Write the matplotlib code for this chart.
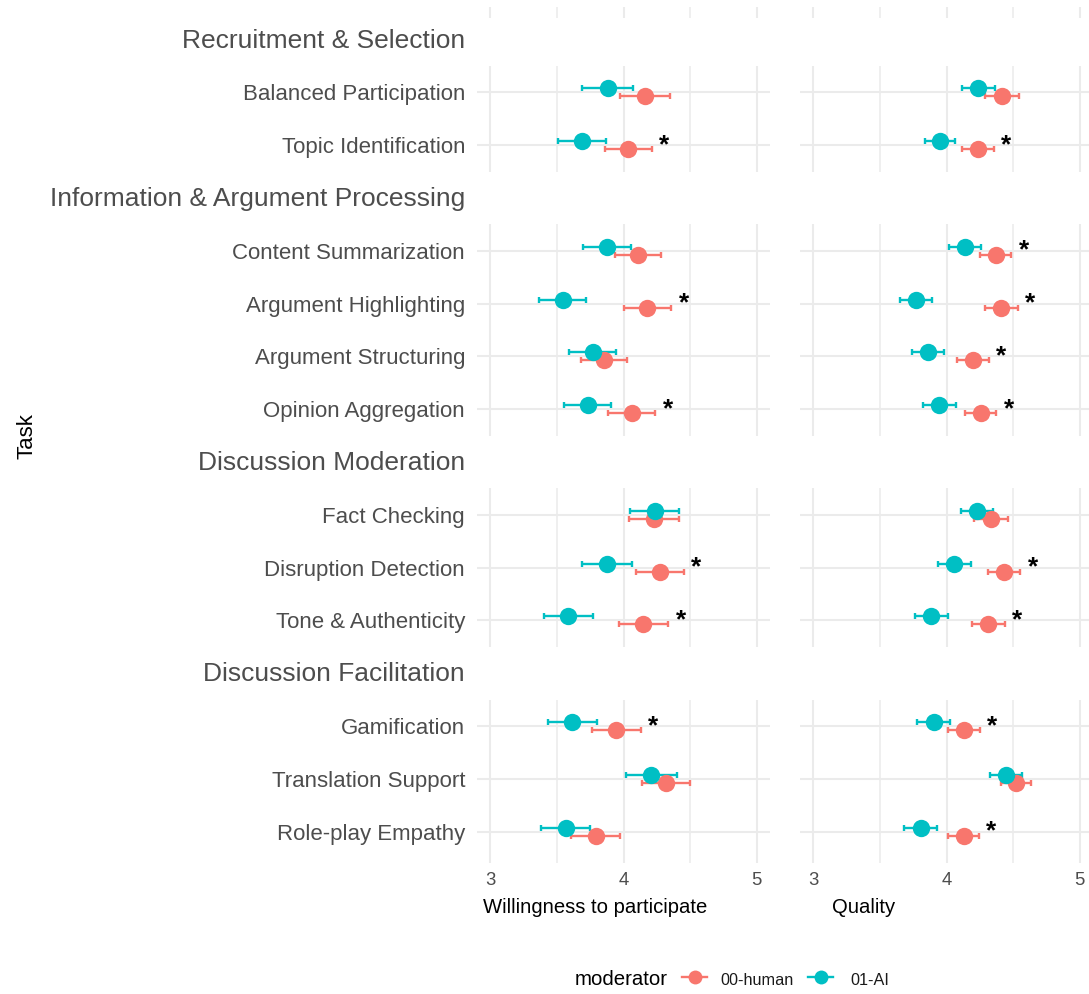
import numpy as np
import matplotlib.pyplot as plt
from matplotlib.lines import Line2D

plt.rcParams['font.family'] = ['Liberation Sans', 'DejaVu Sans']

# task groups and tasks (top to bottom)
groups = ["Recruitment & Selection", "Information & Argument Processing",
          "Discussion Moderation", "Discussion Facilitation"]
group_sizes = [2, 4, 3, 3]
tasks = ["Balanced Participation", "Topic Identification",
         "Content Summarization", "Argument Highlighting", "Argument Structuring", "Opinion Aggregation",
         "Fact Checking", "Disruption Detection", "Tone & Authenticity",
         "Gamification", "Translation Support", "Role-play Empathy"]

# willingness to participate: means and CI half-widths
will_human = [4.163, 4.035, 4.109, 4.179, 3.855, 4.062, 4.229, 4.272, 4.150, 3.946, 4.322, 3.790]
will_human_ci = [0.187, 0.177, 0.176, 0.178, 0.175, 0.176, 0.189, 0.180, 0.185, 0.183, 0.180, 0.185]
will_ai = [3.880, 3.687, 3.875, 3.542, 3.770, 3.730, 4.234, 3.877, 3.585, 3.615, 4.209, 3.566]
will_ai_ci = [0.190, 0.180, 0.180, 0.178, 0.176, 0.178, 0.184, 0.187, 0.185, 0.185, 0.190, 0.182]
will_sig = [False, True, False, True, False, True, False, True, True, True, False, False]

# quality: means and CI half-widths
qual_human = [4.416, 4.237, 4.370, 4.411, 4.198, 4.257, 4.336, 4.432, 4.315, 4.130, 4.521, 4.128]
qual_human_ci = [0.128, 0.119, 0.117, 0.123, 0.120, 0.117, 0.128, 0.122, 0.122, 0.118, 0.113, 0.115]
qual_ai = [4.238, 3.950, 4.139, 3.774, 3.863, 3.945, 4.229, 4.060, 3.886, 3.903, 4.444, 3.807]
qual_ai_ci = [0.125, 0.113, 0.119, 0.120, 0.121, 0.123, 0.121, 0.125, 0.126, 0.121, 0.121, 0.125]
qual_sig = [False, True, True, True, True, True, False, True, True, True, False, True]

metrics = [(will_human, will_human_ci, will_ai, will_ai_ci, will_sig),
           (qual_human, qual_human_ci, qual_ai, qual_ai_ci, qual_sig)]
metric_titles = ["Willingness to participate", "Quality"]

RED = "#F8766D"
TEAL = "#00BFC4"
GRID = "#EBEBEB"
TXT = "#4D4D4D"

W, H = 1089, 994
fig = plt.figure(figsize=(W / 100, H / 100), dpi=100)


def px_axes(x0, y0, x1, y1):
    # axes placed by pixel box, y measured from the top
    return fig.add_axes([x0 / W, 1 - y1 / H, (x1 - x0) / W, (y1 - y0) / H])


def style_panel(ax):
    ax.set_xlim(2.9, 5.1)
    ax.set_xticks([3, 4, 5])
    ax.set_xticks([3.5, 4.5], minor=True)
    ax.grid(True, which='major', color=GRID, lw=1.5)
    ax.grid(True, which='minor', axis='x', color=GRID, lw=1.1)
    ax.set_axisbelow(True)
    for s in ax.spines.values():
        s.set_visible(False)
    ax.tick_params(which='both', length=0)


unit = 52.8
panel_x = [(477, 770), (800, 1093)]
dodge = 0.076

# sliver of the panel row above
for x0, x1 in panel_x:
    ax = px_axes(x0, 7, x1, 18)
    style_panel(ax)
    ax.grid(False, axis='y')
    ax.set_yticks([])
    ax.set_xticklabels([])

start = 0
top = 66
for g, (name, n) in enumerate(zip(groups, group_sizes)):
    last = g == len(groups) - 1
    extra = 0.1 if last else 0.0
    bottom = top + (n + extra) * unit
    rows = np.arange(n)
    sl = slice(start, start + n)
    for p, (x0, x1) in enumerate(panel_x):
        hum, hum_ci, ai, ai_ci, sig = metrics[p]
        h, hc = np.array(hum[sl]), np.array(hum_ci[sl])
        a, ac = np.array(ai[sl]), np.array(ai_ci[sl])
        ax = px_axes(x0, top, x1, bottom)
        style_panel(ax)
        ax.set_ylim(n - 0.5 + extra, -0.5)
        ax.set_yticks(rows)

        ax.errorbar(h, rows + dodge, xerr=hc, fmt='none', ecolor=RED,
                    elinewidth=1.7, capsize=2.3, capthick=1.7, zorder=2)
        ax.errorbar(a, rows - dodge, xerr=ac, fmt='none', ecolor=TEAL,
                    elinewidth=1.7, capsize=2.3, capthick=1.7, zorder=2)
        ax.plot(h, rows + dodge, 'o', ms=12.5, color=RED, mew=0, zorder=3)
        ax.plot(a, rows - dodge, 'o', ms=12.5, color=TEAL, mew=0, zorder=4)

        # significance stars just right of the widest interval
        for r, s in zip(rows, sig[sl]):
            if s:
                xs = max(h[r] + hc[r], a[r] + ac[r]) + 0.095
                ax.text(xs, r, '*', ha='center', va='center', fontweight='bold',
                        fontsize=19, color='black', zorder=5)

        if p == 0:
            ax.set_yticklabels(tasks[sl], fontsize=16, color=TXT)
            ax.tick_params(axis='y', pad=8.6)
        else:
            ax.set_yticklabels([])

        if last:
            ax.set_xticklabels(['3', '4', '5'], fontsize=13.3, color=TXT)
            ax.tick_params(axis='x', pad=6.2)
        else:
            ax.set_xticklabels([])

    fig.text(465 / W, 1 - (top - unit / 2 + 8) / H, name, ha='right',
             va='baseline', fontsize=19, color=TXT)
    start += n
    top = bottom + unit

# axis titles
fig.text(595 / W, 1 - 913 / H, metric_titles[0], ha='center', va='baseline', fontsize=14.6)
fig.text(864 / W, 1 - 913 / H, metric_titles[1], ha='center', va='baseline', fontsize=14.6)
fig.text(27 / W, 1 - 436 / H, "Task", rotation=90, ha='center', va='center', fontsize=16)

# legend
ly = 1 - 977 / H
fig.text(575 / W, 1 - 985 / H, "moderator", ha='left', va='baseline', fontsize=14.7)
for (lx0, lx1, tx, col, lab) in [(682, 707, 720, RED, "00-human"), (808, 833, 850, TEAL, "01-AI")]:
    fig.add_artist(Line2D([lx0 / W, lx1 / W], [ly, ly], color=col, lw=1.7))
    fig.add_artist(Line2D([(lx0 + lx1) / 2 / W], [ly], marker='o', ms=10, color=col, mew=0))
    fig.text(tx / W, 1 - 985 / H, lab, ha='left', va='baseline', fontsize=11.7, color='#1A1A1A')

fig.savefig("out.png", dpi=100)
